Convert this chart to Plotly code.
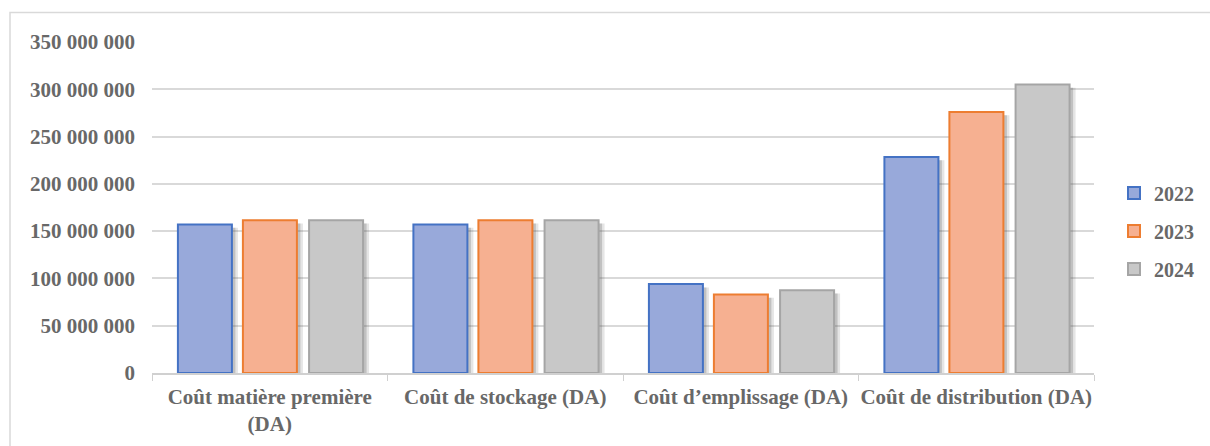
import plotly.graph_objects as go

# Cost categories (x axis) and yearly values in DA
categories = [
    "Coût matière première<br>(DA)",
    "Coût de stockage (DA)",
    "Coût d’emplissage (DA)",
    "Coût de distribution (DA)",
]
years = ["2022", "2023", "2024"]
values_2022 = [157_000_000, 157_000_000, 94_000_000, 228_500_000]
values_2023 = [161_500_000, 161_500_000, 83_000_000, 276_000_000]
values_2024 = [161_500_000, 161_500_000, 87_500_000, 305_000_000]
y_ticks = [0, 50_000_000, 100_000_000, 150_000_000, 200_000_000,
           250_000_000, 300_000_000, 350_000_000]

series = [values_2022, values_2023, values_2024]
fills = ["#98a9da", "#f6b091", "#c8c8c8"]
edges = ["#4472c4", "#ed7d31", "#a5a5a5"]

W, H = 1210, 446
M = dict(l=152, r=116, t=42, b=73, autoexpand=False)
plot_w = W - M["l"] - M["r"]
plot_h = H - M["t"] - M["b"]
cat_px = plot_w / len(categories)

bar_w = 54 / cat_px
offsets = [-0.39, -0.114, 0.167]
y_max = y_ticks[-1]

FONT = "Liberation Serif"
TXT = "#686868"

fig = go.Figure()

# soft drop shadows behind the bars (two layers fading outwards)
for dx_px, alpha in [(6, 0.14), (3.5, 0.22)]:
    for vals, off in zip(series, offsets):
        fig.add_trace(go.Bar(
            x=categories, y=[v - 0.01 * y_max for v in vals],
            width=bar_w, offset=off + dx_px / cat_px,
            marker=dict(color=f"rgba(70,70,70,{alpha})", line=dict(width=0)),
            showlegend=False, hoverinfo="skip",
        ))

for name, vals, off, fc, ec in zip(years, series, offsets, fills, edges):
    fig.add_trace(go.Bar(
        x=categories, y=vals, name=name,
        width=bar_w, offset=off,
        marker=dict(color=fc, line=dict(color=ec, width=2)),
        legendgroup=name,
    ))

# outer chart frame
fig.add_shape(
    type="rect", xref="paper", yref="paper",
    x0=(10 - M["l"]) / plot_w, x1=(W + 10 - M["l"]) / plot_w,
    y0=-(M["b"] + 20) / plot_h, y1=(plot_h + M["t"] - 12.5) / plot_h,
    line=dict(color="#d9d9d9", width=1.5), fillcolor="rgba(0,0,0,0)", layer="below",
)

fig.update_layout(
    width=W, height=H, margin=M,
    barmode="overlay",
    paper_bgcolor="white", plot_bgcolor="white",
    separators=", ",
    font=dict(family=FONT, size=21, color=TXT, weight="bold"),
    legend=dict(
        x=(1114 - M["l"]) / plot_w, xanchor="left",
        y=(M["t"] + plot_h - 231) / plot_h, yanchor="middle",
        font=dict(family=FONT, size=20, color=TXT, weight="bold"),
        tracegroupgap=9, bgcolor="rgba(0,0,0,0)",
    ),
    xaxis=dict(
        type="category", showgrid=False,
        showline=True, linecolor="#d0d0d0", linewidth=1.5,
        ticks="outside", tickson="boundaries", ticklen=6, tickcolor="#d0d0d0",
        tickangle=0, ticklabelstandoff=4,
        tickfont=dict(family=FONT, size=21, color=TXT, weight="bold"),
    ),
    yaxis=dict(
        range=[0, y_max], tickvals=y_ticks, tickformat=",.0f",
        showgrid=True, gridcolor="#d9d9d9", gridwidth=1.5,
        zeroline=False, showline=False, ticks="",
        ticklabelstandoff=16,
        tickfont=dict(family=FONT, size=21, color=TXT, weight="bold"),
    ),
)

fig.write_html("out.html")
